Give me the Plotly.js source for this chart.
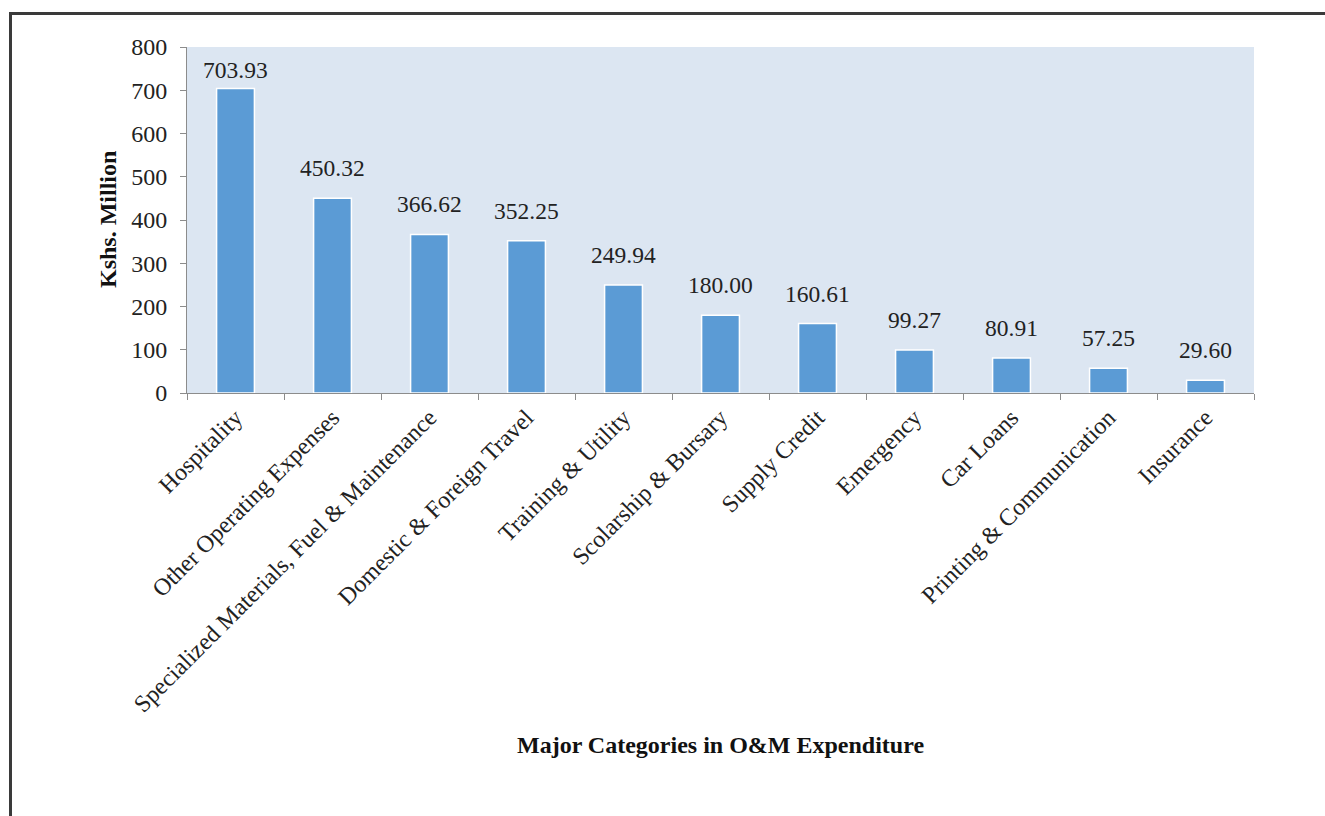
<!DOCTYPE html>
<html>
<head>
<meta charset="utf-8">
<script src="https://cdn.plot.ly/plotly-3.0.1.min.js"></script>
<style>
  body { margin: 0; background: #fff; }
  #frame { position: absolute; left: 9px; top: 12px; width: 1400px; height: 900px;
           border-top: 3px solid #3a3a3a; border-left: 3px solid #3a3a3a; }
  #chart { position: absolute; left: 0; top: 0; width: 1325px; height: 816px; }
</style>
</head>
<body>
<div id="frame"></div>
<div id="chart"></div>
<script>
// O&M expenditure categories (Kshs. Million)
var categories = ["Hospitality", "Other Operating Expenses", "Specialized Materials, Fuel & Maintenance",
  "Domestic & Foreign Travel", "Training & Utility", "Scolarship & Bursary", "Supply Credit",
  "Emergency", "Car Loans", "Printing & Communication", "Insurance"];
var amounts = [703.93, 450.32, 366.62, 352.25, 249.94, 180.00, 160.61, 99.27, 80.91, 57.25, 29.60];
var yTicks = [0, 100, 200, 300, 400, 500, 600, 700, 800];

var serif = "Liberation Serif";

var trace = {
  x: categories,
  y: amounts,
  type: "bar",
  width: 0.39,
  marker: { color: "#5b9bd5", line: { color: "#ffffff", width: 1.5 } },
  hoverinfo: "none"
};

// value labels above each bar
var labels = categories.map(function (c, i) {
  return {
    x: c, y: amounts[i], text: amounts[i].toFixed(2),
    showarrow: false, yanchor: "bottom", yshift: i === 0 ? 4 : 15,
    font: { family: serif, size: 23.5, color: "#222" }
  };
});

labels.push({
  xref: "paper", yref: "paper", x: 0.5, y: -1.017,
  text: "<b>Major Categories in O&M Expenditure</b>", showarrow: false,
  xanchor: "center", yanchor: "middle",
  font: { family: serif, size: 24, color: "#111" }
});
labels.push({
  xref: "paper", yref: "paper", x: -0.074, y: 0.5, textangle: -90,
  text: "<b>Kshs. Million</b>", showarrow: false,
  xanchor: "center", yanchor: "middle",
  font: { family: serif, size: 24, color: "#111" }
});

var layout = {
  width: 1325, height: 816,
  margin: { l: 187, r: 71, t: 47, b: 423 },
  paper_bgcolor: "rgba(0,0,0,0)",
  plot_bgcolor: "#dce6f2",
  showlegend: false,
  font: { family: serif, size: 24, color: "#222" },
  xaxis: {
    type: "category",
    tickangle: -45,
    ticks: "outside", ticklen: 6, tickcolor: "#8c8c8c",
    tickson: "boundaries",
    showline: true, linecolor: "#8c8c8c", linewidth: 1,
    showgrid: false,
    tickfont: { family: serif, size: 24, color: "#222" }
  },
  yaxis: {
    range: [0, 800],
    tickvals: yTicks,
    ticks: "outside", ticklen: 6, tickcolor: "#8c8c8c",
    ticklabelstandoff: 8,
    showline: true, linecolor: "#8c8c8c", linewidth: 1,
    showgrid: false, zeroline: false,
    tickfont: { family: serif, size: 24, color: "#222" }
  },
  annotations: labels
};

Plotly.newPlot("chart", [trace], layout, { staticPlot: true });
</script>
</body>
</html>
